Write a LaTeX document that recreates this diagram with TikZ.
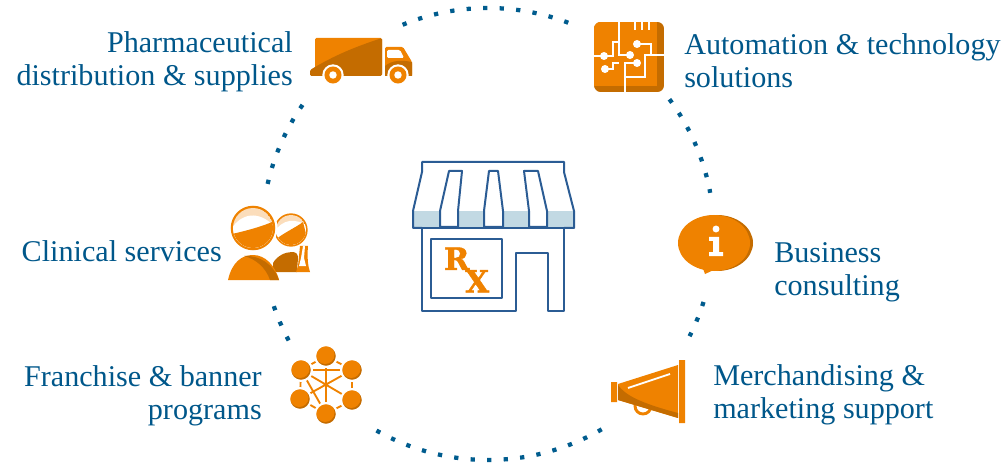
\documentclass[tikz,border=0pt]{standalone}
\usepackage{fontspec}
\setmainfont{Liberation Serif}
\newfontfamily\rxfont[BoldFeatures = {FakeBold = 1.5}]{DejaVu Serif}
\definecolor{labelblue}{HTML}{00578A}
\definecolor{dotblue}{HTML}{005C8E}
\definecolor{storeblue}{HTML}{2B5C94}
\definecolor{bandblue}{HTML}{C2D9E3}
\definecolor{iconorange}{HTML}{EF8200}
\definecolor{icondark}{HTML}{C46C00}
\definecolor{iconpeach}{HTML}{FBDDBB}
\tikzset{
  label/.style = {font = \fontsize{22.6}{25}\selectfont, text = labelblue, inner sep = 0pt},
  dots/.style = {dotblue, line width = 3.2pt, dash pattern = on 3.2pt off 9.2pt},
  store/.style = {storeblue, line width = 1.5pt, line join = round},
  ball/.style = {circle, inner sep = 0pt, minimum size = 16.4pt, fill = icondark, draw = white, line width = 1.6pt,
    path picture = {\fill[iconorange] ([xshift = -0.6pt, yshift = 1pt]path picture bounding box.center) circle (7pt);}}
}
\begin{document}
\begin{tikzpicture}[x = 0.75pt, y = -0.75pt]
\useasboundingbox (0, 0) rectangle (1002, 463);
\coordinate (hub) at (488, 234);
% dotted ring
\foreach \a/\b in {-112.2/-69, -36.6/-10.5, 17.5/26.9, 59.8/120.1, 151.9/162.2, 192.8/215.1}
  \draw[dots] (hub) ++(\a:226) arc [start angle = \a, end angle = \b, radius = 226];
% store
\fill[bandblue] (414, 211) rectangle (573, 227);
\draw[store] (422, 228) -- (413, 228) -- (413, 211) -- (422, 172) -- (422, 162) -- (564, 162) -- (564, 172) -- (574, 211) -- (574, 228) -- (564, 228);
\draw[store, fill = white] (449, 171) -- (462, 171) -- (458, 211) -- (458, 227) -- (440, 227) -- (440, 211) -- cycle;
\draw[store, fill = white] (489, 171) -- (498, 171) -- (503, 211) -- (503, 227) -- (484, 227) -- (484, 211) -- cycle;
\draw[store, fill = white] (524, 171) -- (538, 171) -- (547, 211) -- (547, 227) -- (529, 227) -- (529, 211) -- cycle;
\draw[store] (413, 228) -- (574, 228);
\draw[store] (422, 228) -- (422, 311) -- (516, 311) -- (516, 253) -- (548, 253) -- (548, 311) -- (564, 311) -- (564, 228);
\draw[store] (431, 239) rectangle (502, 298);
\node[text = iconorange, font = \rxfont\bfseries\fontsize{23}{17}\selectfont\lineskiplimit -30pt\relax, align = left, inner sep = 0pt] (rx) at (466.5, 270) {R\\\hspace*{16pt}X};
% truck
\fill[iconorange, rounded corners = 1pt] (315, 38) rectangle (382, 75);
\fill[icondark, rounded corners = 1pt] (310, 76) -- (310, 70) .. controls (335, 55) and (355, 47) .. (382, 38) -- (382, 76) -- cycle;
\fill[iconorange, rounded corners = 1pt] (385, 76) -- (385, 47) -- (403, 47) -- (412, 62) -- (412, 76) -- cycle;
\fill[icondark] (385, 76) -- (385, 66) .. controls (392, 60) and (402, 60) .. (412, 62) -- (412, 76) -- cycle;
\fill[white, rounded corners = 1pt] (387, 50) -- (400, 50) -- (404, 58) -- (387, 58) -- cycle;
\foreach \wx in {333, 398} {
  \fill[white] (\wx, 75) circle (8pt);
  \fill[iconorange] (\wx, 75) circle (6.4pt);
  \fill[white] (\wx, 75) circle (2.8pt);
}
% chip
\begin{scope}
\clip[rounded corners = 5pt] (594, 22) rectangle (664, 92);
\fill[icondark] (594, 22) rectangle (664, 92);
\fill[iconorange] (594, 22) rectangle (657, 86);
\end{scope}
\begin{scope}[white, line width = 1.3pt]
\draw (619, 22) -- (619, 55) -- (630, 55);
\draw (637, 44) -- (651, 44) -- (651, 55) -- (664, 55);
\draw (594, 56) -- (613, 56) -- (613, 42) -- (619, 42);
\draw (605, 69) -- (613, 69) -- (613, 63) -- (619, 63);
\draw (637, 63) -- (625, 63) -- (625, 92);
\draw (625, 77) -- (645, 77) -- (645, 55) -- (651, 55);
\foreach \bx in {635, 642, 649} \draw (\bx, 22) -- (\bx, 30);
\foreach \cx/\cy in {630/55, 637/44, 604/56, 605/69, 637/63} \fill (\cx, \cy) circle (3pt);
\end{scope}
% people
\fill[iconorange] (291, 230) circle (12.5pt);
\begin{scope}
\clip (291, 230) circle (11.2pt);
\fill[iconpeach] (291, 230) circle (11.2pt);
\fill[white] (274, 232) .. controls (282, 220) and (295, 216) .. (310, 228) -- (310, 250) -- (274, 250) -- cycle;
\fill[iconorange] (275, 240) .. controls (285, 232) and (295, 228) .. (303, 222) -- (310, 250) -- (275, 250) -- cycle;
\end{scope}
\fill[icondark] (273, 263) .. controls (277, 256) and (285, 252) .. (292, 252) .. controls (296, 252) and (298, 254) .. (298, 258) -- (297, 272) -- (273, 272) -- cycle;
\fill[iconorange] (300, 246) -- (308, 246) .. controls (307, 258) and (308, 266) .. (310, 272) -- (296, 272) -- (298, 266) -- cycle;
\fill[white] (303, 246) -- (305, 246) -- (304, 258) -- (306, 266) -- (299, 266) -- (301, 258) -- cycle;
\fill[white] (253, 228) circle (18.4pt);
\fill[iconorange] (253, 228) circle (16.7pt);
\begin{scope}
\clip (253, 228) circle (15pt);
\fill[iconpeach] (253, 228) circle (15pt);
\fill[white] (232, 228) .. controls (240, 215) and (258, 208) .. (276, 228) -- (276, 250) -- (232, 250) -- cycle;
\fill[iconorange] (232, 234) .. controls (245, 231) and (265, 226) .. (276, 220) -- (276, 252) -- (232, 252) -- cycle;
\end{scope}
\fill[iconorange] (228, 280) .. controls (232, 262) and (242, 255) .. (253, 255) .. controls (265, 255) and (275, 265) .. (279, 280) -- cycle;
\fill[icondark] (244, 256) .. controls (260, 255) and (274, 265) .. (279, 280) -- (270, 280) .. controls (266, 268) and (256, 259) .. cycle;
% network
\foreach \nm/\nx/\ny in {top/326/356, ul/301/370, ur/352/370, ll/300/399, lr/352/400, bot/326/414}
  \coordinate (p\nm) at (\nx, \ny);
\draw[iconorange, line width = 1.4pt] (ptop) -- (pur) -- (plr) -- (pbot) -- (pll) -- (pul) -- cycle;
\draw[iconorange, line width = 1.4pt] (pul) -- (pur) (ptop) -- (pbot) (pul) -- (plr) (pur) -- (pll) (pul) -- (pbot);
\foreach \nm in {top, ul, ur, ll, lr, bot}
  \node[ball] (n\nm) at (p\nm) {};
% megaphone
\draw[iconorange, line width = 2.2pt] (643, 406) circle (6pt);
\fill[iconorange] (618, 384) -- (678, 365) -- (678, 418) -- (618, 400) -- cycle;
\fill[icondark] (618, 385) .. controls (625, 395) and (640, 403) .. (678, 413) -- (678, 418) -- (618, 400) -- cycle;
\draw[white, line width = 1.4pt] (628, 388) -- (670, 374);
\fill[iconorange] (611, 382) rectangle (617, 402) (679, 360) rectangle (685, 423);
% bubble
\fill[icondark] (717, 243) ellipse [x radius = 36, y radius = 28];
\fill[iconorange] (714, 243) ellipse [x radius = 36, y radius = 28];
\fill[iconorange] (702, 266) -- (705, 274) -- (718, 268) -- cycle;
\fill[white] (716, 229) circle (2.6pt);
\fill[white] (709, 237) -- (719, 237) -- (719, 252) -- (723, 252) -- (723, 256) -- (709, 256) -- (709, 252) -- (713, 252) -- (713, 241) -- (709, 241) -- cycle;
% labels
\node[label, anchor = east, align = right] (pharma) at (293, 62) {Pharmaceutical\\distribution \& supplies};
\node[label, anchor = west, align = left] (automation) at (684, 61) {Automation \& technology\\solutions};
\node[label, anchor = east] (clinical) at (222, 251) {Clinical services};
\node[label, anchor = west, align = left] (business) at (774, 272) {Business\\consulting};
\node[label, anchor = east, align = right] (franchise) at (262, 396) {Franchise \& banner\\programs};
\node[label, anchor = west, align = left] (merch) at (713, 395) {Merchandising \&\\marketing support};
\end{tikzpicture}
\end{document}
